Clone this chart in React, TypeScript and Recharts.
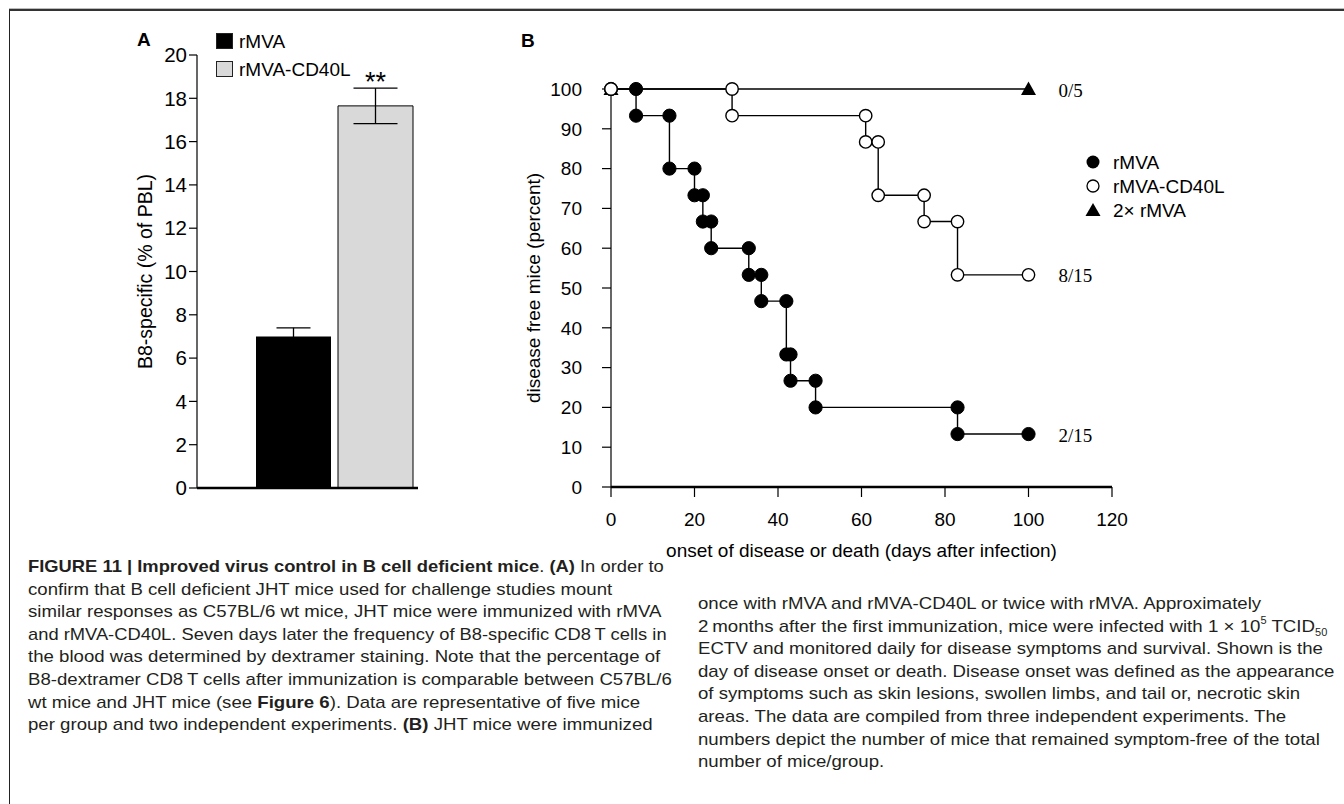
import React from 'react';
import {
  BarChart,
  Bar,
  XAxis,
  YAxis,
  ErrorBar,
  LabelList,
  Legend,
  ScatterChart,
  Scatter,
  ReferenceDot,
} from 'recharts';

const SANS = '"Liberation Sans", Arial, Helvetica, sans-serif';
const SERIF = '"Liberation Serif", "Times New Roman", serif';

// ---------- Panel A data ----------
const groupsA = ['rMVA', 'rMVA-CD40L'];
const meanA = [7.0, 17.65];
const errA = [0.4, 0.82];
const fillA = ['#000000', '#d9d9d9'];
const starsA = ['', '**'];
const ticksA = [0, 2, 4, 6, 8, 10, 12, 14, 16, 18, 20];

// ---------- Panel B data ----------
const daysRMVA = [0, 6, 6, 14, 14, 20, 20, 22, 22, 24, 24, 33, 33, 36, 36, 42, 42, 43, 43, 49, 49, 83, 83, 100];
const pctRMVA = [100, 100, 93.3, 93.3, 80, 80, 73.3, 73.3, 66.7, 66.7, 60, 60, 53.3, 53.3, 46.7, 46.7, 33.3, 33.3, 26.7, 26.7, 20, 20, 13.3, 13.3];
const daysCD40L = [0, 29, 29, 61, 61, 64, 64, 75, 75, 83, 83, 100];
const pctCD40L = [100, 100, 93.3, 93.3, 86.7, 86.7, 73.3, 73.3, 66.7, 66.7, 53.3, 53.3];
const daysTwice = [0, 100];
const pctTwice = [100, 100];
const seriesB = ['rMVA', 'rMVA-CD40L', '2\u00d7 rMVA'];
const endLabelsB = ['2/15', '8/15', '0/5'];
const ticksBX = [0, 20, 40, 60, 80, 100, 120];
const ticksBY = [0, 10, 20, 30, 40, 50, 60, 70, 80, 90, 100];

const rowA = [
  { name: '', v0: meanA[0], e0: errA[0], v1: meanA[1], e1: errA[1] },
];

const toPts = (xs: number[], ys: number[]) => xs.map((x, i) => ({ x, y: ys[i] }));
const ptsRMVA = toPts(daysRMVA, pctRMVA);
const ptsCD40L = toPts(daysCD40L, pctCD40L);
const ptsTwice = toPts(daysTwice, pctTwice);
const endPts = [ptsRMVA[ptsRMVA.length - 1], ptsCD40L[ptsCD40L.length - 1], ptsTwice[ptsTwice.length - 1]];

const FilledDot = (p: any) => <circle cx={p.cx} cy={p.cy} r={6.6} fill="#000" stroke="#000" strokeWidth={1} />;
const OpenDot = (p: any) => <circle cx={p.cx} cy={p.cy} r={6.2} fill="#fff" stroke="#000" strokeWidth={1.4} />;
const TriDot = (p: any) => (
  <polygon
    points={`${p.cx},${p.cy - 7.5} ${p.cx + 7.5},${p.cy + 6} ${p.cx - 7.5},${p.cy + 6}`}
    fill="#000"
  />
);

const legendA = () => (
  <svg width={200} height={60} style={{ display: 'block', fontFamily: SANS }}>
    {groupsA.map((g, i) => (
      <g key={g}>
        <rect x={3.5} y={3.5 + i * 28} width={16} height={15} fill={fillA[i]} stroke="#222" strokeWidth={1} />
        <text x={26} y={11 + i * 28} fontSize={19} fill="#000" dominantBaseline="central">
          {g}
        </text>
      </g>
    ))}
  </svg>
);

const legendB = () => (
  <svg width={200} height={80} style={{ display: 'block', fontFamily: SANS }}>
    {seriesB.map((s, i) => {
      const cy = 14 + i * 24;
      const marker =
        i === 0 ? (
          <circle cx={8} cy={cy} r={6.5} fill="#000" />
        ) : i === 1 ? (
          <circle cx={8} cy={cy} r={6} fill="#fff" stroke="#000" strokeWidth={1.3} />
        ) : (
          <polygon points={`8,${cy - 7} 15.5,${cy + 6} 0.5,${cy + 6}`} fill="#000" />
        );
      return (
        <g key={s}>
          {marker}
          <text x={28} y={cy} fontSize={19} fill="#000" dominantBaseline="central">
            {s}
          </text>
        </g>
      );
    })}
  </svg>
);

const leftLines: React.ReactNode[] = [
  <>
    <b>FIGURE 11 | Improved virus control in B cell deficient mice</b>. <b>(A)</b> In order to
  </>,
  <>confirm that B cell deficient JHT mice used for challenge studies mount</>,
  <>similar responses as C57BL/6 wt mice, JHT mice were immunized with rMVA</>,
  <>and rMVA-CD40L. Seven days later the frequency of B8-specific CD8{'\u2009'}T cells in</>,
  <>the blood was determined by dextramer staining. Note that the percentage of</>,
  <>B8-dextramer CD8{'\u2009'}T cells after immunization is comparable between C57BL/6</>,
  <>
    wt mice and JHT mice (see <b>Figure 6</b>). Data are representative of five mice
  </>,
  <>
    per group and two independent experiments. <b>(B)</b> JHT mice were immunized
  </>,
];
const leftScales = [1.08, 1.095, 1.095, 1.078, 1.095, 1.095, 1.095, 1.095];

const rightLines: React.ReactNode[] = [
  <>once with rMVA and rMVA-CD40L or twice with rMVA. Approximately</>,
  <>
    2{'\u2009'}months after the first immunization, mice were infected with 1 {'\u00d7'} 10
    <sup style={{ fontSize: 10, verticalAlign: 'top', lineHeight: 1 }}>5</sup> TCID
    <sub style={{ fontSize: 10, verticalAlign: 'bottom', lineHeight: 1 }}>50</sub>
  </>,
  <>ECTV and monitored daily for disease symptoms and survival. Shown is the</>,
  <>day of disease onset or death. Disease onset was defined as the appearance</>,
  <>of symptoms such as skin lesions, swollen limbs, and tail or, necrotic skin</>,
  <>areas. The data are compiled from three independent experiments. The</>,
  <>numbers depict the number of mice that remained symptom-free of the total</>,
  <>number of mice/group.</>,
];
const rightScales = [1.095, 1.1, 1.095, 1.095, 1.095, 1.095, 1.095, 1.095];

const captionLine = (content: React.ReactNode, left: number, cy: number, scale: number, key: string) => (
  <div
    key={key}
    style={{
      position: 'absolute',
      left,
      top: cy - 11,
      height: 22,
      lineHeight: '22px',
      fontSize: 17,
      whiteSpace: 'nowrap',
      color: '#231f20',
      fontFamily: SANS,
      transform: `scaleX(${scale})`,
      transformOrigin: '0 0',
    }}
  >
    {content}
  </div>
);

export default function App() {
  return (
    <div
      style={{
        position: 'absolute',
        left: 0,
        top: 0,
        width: 1344,
        height: 804,
        overflow: 'hidden',
        background: '#fff',
        fontFamily: SANS,
      }}
    >
      {/* frame */}
      <div
        style={{
          position: 'absolute',
          left: 9,
          top: 9,
          width: 1340,
          height: 800,
          borderTop: '2px solid #333',
          borderLeft: '1px solid #222',
          boxSizing: 'border-box',
        }}
      />
      <div
        style={{ position: 'absolute', left: 9, top: 8, width: 1340, height: 1, background: '#bbb' }}
      />

      {/* panel letters */}
      <div style={{ position: 'absolute', left: 137, top: 29, fontSize: 19, fontWeight: 'bold', color: '#000' }}>A</div>
      <div style={{ position: 'absolute', left: 521, top: 30, fontSize: 19, fontWeight: 'bold', color: '#000' }}>B</div>

      {/* Panel A */}
      <div style={{ position: 'absolute', left: 0, top: 0 }}>
        <BarChart
          width={440}
          height={510}
          data={rowA}
          margin={{ top: 55, right: 22, bottom: 20, left: 137 }}
          barCategoryGap={0}
          barGap={7}
        >
          <XAxis
            dataKey="name"
            tick={false}
            tickLine={false}
            height={2}
            padding={{ left: 59, right: 6 }}
            axisLine={{ stroke: '#000', strokeWidth: 2.5 }}
          />
          <YAxis
            domain={[0, 20]}
            ticks={ticksA}
            interval={0}
            width={60}
            tickSize={8}
            tickMargin={2}
            axisLine={{ stroke: '#000', strokeWidth: 1.2 }}
            tickLine={{ stroke: '#000', strokeWidth: 1.2 }}
            tick={{ fill: '#000', fontSize: 20.5 }}
            label={{
              content: (p: any) => {
                const vb = p.viewBox || { x: 137, y: 55, width: 60, height: 433 };
                const cx = vb.x + vb.width - 52;
                const cy = vb.y + vb.height / 2;
                return (
                  <text
                    x={cx}
                    y={cy}
                    transform={`rotate(-90 ${cx} ${cy})`}
                    textAnchor="middle"
                    dominantBaseline="central"
                    fontSize={19.5}
                    fill="#000"
                  >
                    B8-specific (% of PBL)
                  </text>
                );
              },
            }}
          />
          <Bar dataKey="v0" fill={fillA[0]} isAnimationActive={false}>
            <ErrorBar dataKey="e0" width={17} stroke="#000" strokeWidth={1.3} direction="y" />
          </Bar>
          <Bar dataKey="v1" fill={fillA[1]} stroke="#000" strokeWidth={1} isAnimationActive={false}>
            <ErrorBar dataKey="e1" width={22} stroke="#000" strokeWidth={1.3} direction="y" />
            <LabelList
              dataKey="v1"
              content={(p: any) => (
                <text
                  x={Number(p.x) + Number(p.width) / 2}
                  y={Number(p.y) - 15}
                  textAnchor="middle"
                  fontSize={27}
                  fill="#000"
                >
                  {starsA[1]}
                </text>
              )}
            />
          </Bar>
          <Legend
            layout="vertical"
            align="center"
            verticalAlign="middle"
            content={legendA}
            wrapperStyle={{ left: 213, top: 30, width: 200, height: 60 }}
          />
        </BarChart>
      </div>

      {/* Panel B */}
      <div style={{ position: 'absolute', left: 440, top: 0 }}>
        <ScatterChart width={900} height={580} margin={{ top: 89, right: 228, bottom: 33, left: 111 }}>
          <XAxis
            type="number"
            dataKey="x"
            domain={[0, 120]}
            ticks={ticksBX}
            interval={0}
            height={60}
            tickSize={10}
            tickMargin={16}
            axisLine={{ stroke: '#000', strokeWidth: 2.5 }}
            tickLine={{ stroke: '#000', strokeWidth: 1.2 }}
            tick={{ fill: '#000', fontSize: 19 }}
            label={{
              content: (p: any) => {
                const vb = p.viewBox || { x: 171, y: 487, width: 501, height: 60 };
                return (
                  <text
                    x={vb.x + vb.width / 2}
                    y={vb.y + 63}
                    textAnchor="middle"
                    dominantBaseline="central"
                    fontSize={19}
                    fill="#000"
                  >
                    onset of disease or death (days after infection)
                  </text>
                );
              },
            }}
          />
          <YAxis
            type="number"
            dataKey="y"
            domain={[0, 100]}
            ticks={ticksBY}
            interval={0}
            width={60}
            tickSize={9}
            tickMargin={20}
            axisLine={{ stroke: '#000', strokeWidth: 1.2 }}
            tickLine={{ stroke: '#000', strokeWidth: 1.2 }}
            tick={{ fill: '#000', fontSize: 19 }}
            label={{
              content: (p: any) => {
                const vb = p.viewBox || { x: 111, y: 89, width: 60, height: 398 };
                const cx = vb.x + vb.width - 78;
                const cy = vb.y + vb.height / 2;
                return (
                  <text
                    x={cx}
                    y={cy}
                    transform={`rotate(-90 ${cx} ${cy})`}
                    textAnchor="middle"
                    dominantBaseline="central"
                    fontSize={19}
                    fill="#000"
                  >
                    disease free mice (percent)
                  </text>
                );
              },
            }}
          />
          <Scatter
            name={seriesB[2]}
            data={ptsTwice}
            fill="#000"
            line={{ stroke: '#000', strokeWidth: 1.4 }}
            shape={TriDot}
            isAnimationActive={false}
          />
          <Scatter
            name={seriesB[0]}
            data={ptsRMVA}
            fill="#000"
            line={{ stroke: '#000', strokeWidth: 1.4 }}
            shape={FilledDot}
            isAnimationActive={false}
          />
          <Scatter
            name={seriesB[1]}
            data={ptsCD40L}
            fill="#000"
            line={{ stroke: '#000', strokeWidth: 1.4 }}
            shape={OpenDot}
            isAnimationActive={false}
          />
          {endPts.map((pt, i) => (
            <ReferenceDot
              key={endLabelsB[i]}
              x={pt.x}
              y={pt.y}
              r={0}
              fill="none"
              stroke="none"
              label={{
                content: (p: any) => {
                  const vb = p.viewBox || { x: 0, y: 0 };
                  return (
                    <text
                      x={vb.x + 30}
                      y={vb.y + 1}
                      dominantBaseline="central"
                      fontSize={19}
                      fontFamily={SERIF}
                      fill="#000"
                    >
                      {endLabelsB[i]}
                    </text>
                  );
                },
              }}
            />
          ))}
          <Legend
            layout="vertical"
            align="center"
            verticalAlign="middle"
            content={legendB}
            wrapperStyle={{ left: 645, top: 148, width: 200, height: 80 }}
          />
        </ScatterChart>
      </div>

      {/* Caption */}
      {leftLines.map((c, i) => captionLine(c, 28, 567 + i * 22.6, leftScales[i], 'l' + i))}
      {rightLines.map((c, i) => captionLine(c, 698, 604 + i * 22.6, rightScales[i], 'r' + i))}
    </div>
  );
}
